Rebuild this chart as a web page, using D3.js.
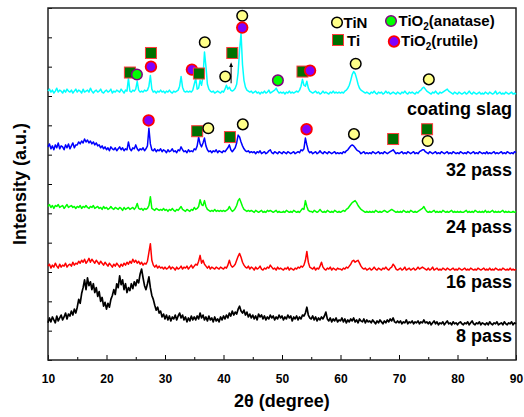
<!DOCTYPE html>
<html lang="en">
<head>
<meta charset="UTF-8">
<title>XRD patterns</title>
<script src="https://cdn.jsdelivr.net/npm/d3@7"></script>
<style>
  body { margin: 0; background: #fff; }
  svg { display: block; font-family: "Liberation Sans", Arial, sans-serif; font-weight: bold; }
</style>
</head>
<body>
<div id="chart"></div>
<script>
// 2θ grid: 10° .. 90° every 0.25°
const xStart = 10, xStep = 0.25;

// raw intensities (a.u.), one line = 5 degrees
const pass8 = [
  2,7,3,8,5,2,9,4,7,10,5,8,12,6,11,9,14,10,16,12,
  18,26,22,32,38,46,36,48,40,44,36,42,33,38,29,34,24,28,19,23,
  16,22,18,26,30,36,31,42,38,50,41,46,36,42,33,38,35,42,37,44,
  40,46,43,52,57,48,40,36,42,49,38,30,26,20,15,18,12,14,8,11,
  6,10,5,9,4,8,6,10,5,9,12,7,10,5,8,3,7,4,9,5,
  8,5,9,6,12,7,10,5,8,4,9,5,7,3,8,4,6,3,8,5,
  9,6,10,7,12,9,14,10,13,11,16,19,14,12,15,10,13,8,11,7,
  10,6,9,5,11,8,10,6,9,5,8,6,10,7,9,5,8,6,10,7,
  9,5,8,6,10,7,9,4,8,6,9,5,8,6,10,9,12,18,10,7,
  6,9,5,8,4,7,5,8,6,9,13,6,4,7,3,6,4,7,3,5,
  4,7,3,6,2,5,3,6,4,7,3,5,2,6,4,3,6,2,5,3,
  4,2,5,3,1,4,2,5,3,1,4,2,5,3,6,4,7,3,2,4,
  2,4,1,3,2,5,1,3,2,4,1,3,2,4,1,3,2,5,2,3,
  1,3,0,2,4,1,3,0,2,1,3,0,2,4,1,2,0,3,1,2,
  0,2,3,1,0,2,1,3,0,2,4,1,0,2,1,3,0,2,1,0,
  2,0,3,1,0,2,1,3,0,1,2,0,3,1,0,2,1,3,0,2,
  1
];
const pass16 = [
  4,6,2,5,3,7,4,2,6,3,5,4,7,3,5,6,4,8,5,7,
  6,9,7,10,8,11,7,9,12,8,11,9,7,10,8,6,9,7,5,8,
  6,4,7,5,3,6,4,7,5,3,6,4,7,5,8,6,9,7,11,8,
  10,7,9,6,8,5,7,6,9,18,27,10,5,3,5,2,4,2,3,1,
  3,1,2,4,1,3,2,0,3,1,2,4,1,3,2,4,1,3,5,2,
  4,6,5,9,15,7,10,6,4,2,4,1,3,2,1,3,2,1,3,2,
  1,3,2,5,10,5,3,4,6,10,14,17,13,8,5,3,2,4,1,3,
  2,0,3,1,2,4,1,0,2,1,3,2,5,3,1,2,0,3,1,2,
  1,0,2,1,3,0,2,1,0,2,1,3,2,4,3,5,10,19,8,3,
  2,1,3,0,2,1,4,8,3,1,0,2,1,3,0,2,1,0,2,1,
  1,0,2,1,3,2,4,6,9,10,8,9,10,7,4,2,1,2,0,1,
  2,0,1,3,1,0,2,1,0,2,1,3,1,0,2,3,6,4,1,0,
  1,2,0,1,3,0,1,2,0,1,2,0,1,3,1,2,3,2,1,0,
  2,0,1,3,0,1,2,0,1,0,2,1,0,2,1,0,1,2,0,1,
  0,2,1,0,1,2,0,1,0,2,1,0,1,0,2,1,0,1,2,0,
  1,0,2,0,1,0,2,1,0,1,0,2,1,0,1,0,2,0,1,0,
  1
];
const pass24 = [
  6,8,5,7,4,7,6,8,5,6,7,4,6,8,5,6,7,5,6,4,
  6,5,7,4,6,5,7,5,4,6,5,7,4,5,6,4,5,3,6,4,
  5,3,4,6,4,3,5,4,3,5,4,2,5,3,4,5,3,4,5,3,
  5,9,4,3,4,2,4,3,4,7,16,4,3,2,4,3,2,3,2,4,
  2,3,1,3,2,4,2,1,3,2,4,6,3,2,1,3,2,1,3,2,
  5,3,4,6,13,8,7,12,6,3,2,1,2,1,3,1,2,1,2,1,
  2,1,2,3,6,3,1,2,4,7,12,14,10,6,3,2,1,2,1,2,
  1,0,2,1,0,1,2,0,1,0,2,1,2,1,0,1,2,0,1,0,
  0,1,0,2,1,0,1,0,2,1,0,1,0,2,4,3,12,6,2,1,
  1,0,2,1,0,1,3,1,0,1,0,2,1,0,1,0,2,1,0,1,
  0,1,2,1,3,4,6,8,10,11,12,10,7,5,3,2,1,0,1,0,
  1,0,1,0,2,1,0,1,0,1,2,1,0,1,2,3,2,1,0,1,
  0,1,0,2,1,0,1,0,2,1,0,1,0,1,2,3,4,6,3,1,
  0,1,0,1,2,0,1,0,1,0,2,1,0,1,0,1,2,0,1,0,
  1,0,1,0,0,1,2,0,1,0,1,0,2,1,0,1,0,1,0,2,
  0,1,0,1,2,0,1,0,1,0,1,2,0,1,0,1,0,0,1,0,
  1
];
const pass32 = [
  7,10,5,8,4,9,6,11,5,8,7,4,9,6,10,5,8,11,6,9,
  9,12,10,13,11,15,12,14,11,13,10,12,9,11,8,9,6,8,5,7,
  4,6,3,7,5,4,6,3,5,7,4,6,3,5,4,12,5,3,6,5,
  9,5,3,5,4,6,3,5,8,26,10,4,3,5,2,4,3,5,2,4,
  3,1,4,2,3,5,2,3,1,4,3,7,4,2,3,1,4,2,3,2,
  5,4,8,17,10,7,11,16,8,4,2,3,1,3,2,4,1,3,2,1,
  3,2,4,6,9,4,2,4,6,11,19,17,12,8,5,3,2,3,1,2,
  1,2,0,2,1,3,0,1,2,0,1,3,4,1,0,2,1,0,2,1,
  0,2,1,0,2,1,0,1,2,0,1,2,1,4,3,5,16,9,3,1,
  2,0,1,2,0,1,3,1,0,2,1,0,2,1,0,1,2,0,1,0,
  1,0,2,1,3,4,6,8,9,8,6,4,3,2,0,1,2,0,1,0,
  1,0,2,1,0,1,2,0,1,0,2,1,0,1,2,3,4,2,0,1,
  0,1,2,0,1,0,2,1,0,1,2,0,1,0,2,3,4,4,2,1,
  0,2,1,0,1,2,0,1,0,2,1,0,1,2,0,1,0,2,1,0,
  1,0,2,1,0,1,0,2,1,0,1,2,0,1,0,2,1,0,1,0,
  2,0,1,0,1,2,0,1,0,1,2,0,1,0,2,1,0,1,0,2,
  1
];
const coatingSlag = [
  3,5,2,4,1,3,6,2,4,3,1,4,2,5,3,2,4,1,3,5,
  2,4,3,1,5,2,3,4,2,6,3,1,3,4,2,3,5,2,1,3,
  4,2,3,5,1,3,2,4,3,2,5,3,1,4,3,16,3,2,4,3,
  5,13,4,2,3,2,4,3,4,8,19,5,2,3,1,3,2,4,2,3,
  1,3,2,4,2,1,3,2,3,4,8,18,7,3,2,3,2,3,2,4,
  10,16,5,6,14,9,18,43,28,10,5,3,2,3,1,2,3,2,1,3,
  2,5,9,5,7,4,3,4,6,10,22,45,62,30,14,7,4,3,2,3,
  1,2,3,1,2,0,2,1,3,1,2,4,1,2,3,4,6,3,1,2,
  1,2,0,2,1,3,1,2,1,2,3,2,4,8,15,9,8,13,6,3,
  2,1,2,3,1,2,0,1,3,1,2,1,0,2,1,3,1,2,1,2,
  1,2,1,3,4,6,9,14,20,23,21,16,10,6,4,3,2,1,2,1,
  0,2,1,3,1,0,2,1,2,0,1,3,1,2,0,1,2,1,0,2,
  1,0,2,1,3,1,0,2,1,2,1,0,2,1,3,4,6,7,5,3,
  2,1,0,2,1,3,1,0,2,1,2,3,4,5,3,2,1,0,2,1,
  0,2,1,0,1,2,0,1,3,1,0,2,1,0,1,2,0,1,0,2,
  1,0,2,1,0,1,3,0,1,2,0,1,0,2,1,0,1,2,0,1,
  0
];

const seriesNames = ["8 pass", "16 pass", "24 pass", "32 pass", "coating slag"];
const seriesValues = [pass8, pass16, pass24, pass32, coatingSlag];
const seriesOffsets = [36, 92, 151, 211, 272];
const seriesColors = ["#000000", "#ff0000", "#00ff00", "#0000ff", "#00ffff"];

const xTicks = [10, 20, 30, 40, 50, 60, 70, 80, 90];
const xMinorTicks = [15, 25, 35, 45, 55, 65, 75, 85];
const yTicks = d3.range(0, 361, 30);

// phase marks: [phase, 2θ, intensity level]
const slagMarks = [
  ["Ti", 24.0, 294], ["anatase", 25.2, 292], ["Ti", 27.6, 314], ["rutile", 27.6, 300],
  ["rutile", 34.6, 297], ["Ti", 35.8, 293], ["TiN", 36.8, 325], ["TiN", 40.3, 290],
  ["Ti", 41.5, 314], ["TiN", 43.2, 352], ["rutile", 43.2, 340], ["anatase", 49.3, 286],
  ["Ti", 53.5, 295], ["rutile", 54.8, 296], ["TiN", 62.6, 303], ["TiN", 75.1, 287]
];
const pass32Marks = [
  ["rutile", 27.2, 245], ["Ti", 35.5, 234], ["TiN", 37.4, 237], ["Ti", 41.1, 228],
  ["TiN", 43.3, 241], ["rutile", 54.2, 236], ["TiN", 62.3, 231], ["Ti", 69.0, 226],
  ["Ti", 74.8, 236], ["TiN", 74.9, 224]
];
const arrowMark = { angle: 41.3, from: 283, to: 302 };

const phaseStyle = {
  TiN:     { shape: "circle", fill: "#ffff88", stroke: "#000000", sw: 1.5 },
  anatase: { shape: "circle", fill: "#00ff00", stroke: "#800080", sw: 1.5 },
  rutile:  { shape: "circle", fill: "#8000ff", stroke: "#ff0000", sw: 1.8 },
  Ti:      { shape: "square", fill: "#007000", stroke: "#ff3b3b", sw: 1 }
};

const width = 524, height = 417;
const margin = { top: 8, right: 8, bottom: 57, left: 48 };

const svg = d3.select("#chart").append("svg")
  .attr("width", width)
  .attr("height", height);

const x = d3.scaleLinear().domain([10, 90]).range([margin.left, width - margin.right]);
const y = d3.scaleLinear().domain([0, 360]).range([height - margin.bottom, margin.top]);

// axes
svg.append("g")
  .attr("transform", `translate(0,${height - margin.bottom})`)
  .call(d3.axisBottom(x).tickValues(xTicks).tickSizeInner(-5).tickSizeOuter(0).tickPadding(14))
  .call(g => g.select(".domain").remove())
  .call(g => g.selectAll("text").style("font-size", "12px").style("font-weight", "bold")
    .attr("font-family", null).attr("fill", "#000"));

svg.append("g")
  .attr("transform", `translate(0,${height - margin.bottom})`)
  .call(d3.axisBottom(x).tickValues(xMinorTicks).tickSizeInner(-3).tickSizeOuter(0).tickFormat(""))
  .call(g => g.select(".domain").remove());

svg.append("g")
  .attr("transform", `translate(${margin.left},0)`)
  .call(d3.axisLeft(y).tickValues(yTicks).tickSizeInner(-4).tickSizeOuter(0).tickFormat(""))
  .call(g => g.select(".domain").remove());

svg.append("rect")
  .attr("x", margin.left)
  .attr("y", margin.top)
  .attr("width", width - margin.left - margin.right)
  .attr("height", height - margin.top - margin.bottom)
  .attr("fill", "none")
  .attr("stroke", "#222")
  .attr("stroke-width", 1.5);

// traces
const line = d3.line()
  .x((d, i) => x(xStart + i * xStep))
  .y(d => y(d));

seriesValues.forEach((vals, k) => {
  svg.append("path")
    .datum(vals.map(v => v + seriesOffsets[k]))
    .attr("d", line)
    .attr("fill", "none")
    .attr("stroke", seriesColors[k])
    .attr("stroke-width", k === 0 ? 1.7 : 1.5)
    .attr("stroke-linejoin", "round");
});

// series labels
const labelDy = [17, 18, 21, 22, 21];
svg.selectAll("text.series")
  .data(seriesNames)
  .join("text")
  .attr("class", "series")
  .attr("x", width - margin.right - 4)
  .attr("y", (d, i) => y(seriesOffsets[i]) + labelDy[i])
  .attr("text-anchor", "end")
  .style("font-size", "18px")
  .text(d => d);

// phase markers
function drawMark(g, phase, cx, cy) {
  const s = phaseStyle[phase];
  if (s.shape === "circle") {
    g.append("circle").attr("cx", cx).attr("cy", cy).attr("r", 5.3)
      .attr("fill", s.fill).attr("stroke", s.stroke).attr("stroke-width", s.sw);
  } else {
    g.append("rect").attr("x", cx - 5.5).attr("y", cy - 5.5).attr("width", 11).attr("height", 11)
      .attr("fill", s.fill).attr("stroke", s.stroke).attr("stroke-width", s.sw);
  }
}

const marks = svg.append("g");
slagMarks.concat(pass32Marks).forEach(([phase, a, lv]) => drawMark(marks, phase, x(a), y(lv)));

// arrow
svg.append("defs").append("marker")
  .attr("id", "head")
  .attr("viewBox", "0 0 10 10")
  .attr("refX", 5).attr("refY", 5)
  .attr("markerWidth", 5).attr("markerHeight", 6)
  .attr("orient", "auto")
  .append("path").attr("d", "M0,1 L10,5 L0,9 Z").attr("fill", "#000");

svg.append("line")
  .attr("x1", x(arrowMark.angle)).attr("x2", x(arrowMark.angle))
  .attr("y1", y(arrowMark.from)).attr("y2", y(arrowMark.to))
  .attr("stroke", "#000").attr("stroke-width", 1)
  .attr("marker-end", "url(#head)");

// legend
const legend = svg.append("g");
const legendItems = [
  { phase: "TiN", cx: 337, cy: 22.5, tx: 343.5, ty: 27.5, text: "TiN" },
  { phase: "anatase", cx: 391, cy: 21, tx: 398.5, ty: 26, text: ["TiO", "2", "(anatase)"] },
  { phase: "Ti", cx: 338, cy: 40, tx: 347, ty: 45.5, text: "Ti" },
  { phase: "rutile", cx: 394, cy: 41.5, tx: 401, ty: 46, text: ["TiO", "2", "(rutile)"] }
];
legendItems.forEach(d => {
  drawMark(legend, d.phase, d.cx, d.cy);
  const t = legend.append("text").attr("x", d.tx).attr("y", d.ty).style("font-size", "15px");
  if (typeof d.text === "string") {
    t.text(d.text);
  } else {
    t.append("tspan").text(d.text[0]);
    t.append("tspan").attr("dy", 4).style("font-size", "10px").text(d.text[1]);
    t.append("tspan").attr("dy", -4).text(d.text[2]);
  }
});

// axis titles
svg.append("text")
  .attr("x", (margin.left + width - margin.right) / 2)
  .attr("y", 407)
  .attr("text-anchor", "middle")
  .style("font-size", "18px")
  .text("2θ (degree)");

svg.append("text")
  .attr("transform", `translate(26,${(margin.top + height - margin.bottom) / 2}) rotate(-90)`)
  .attr("text-anchor", "middle")
  .style("font-size", "18px")
  .text("Intensity (a.u.)");
</script>
</body>
</html>
